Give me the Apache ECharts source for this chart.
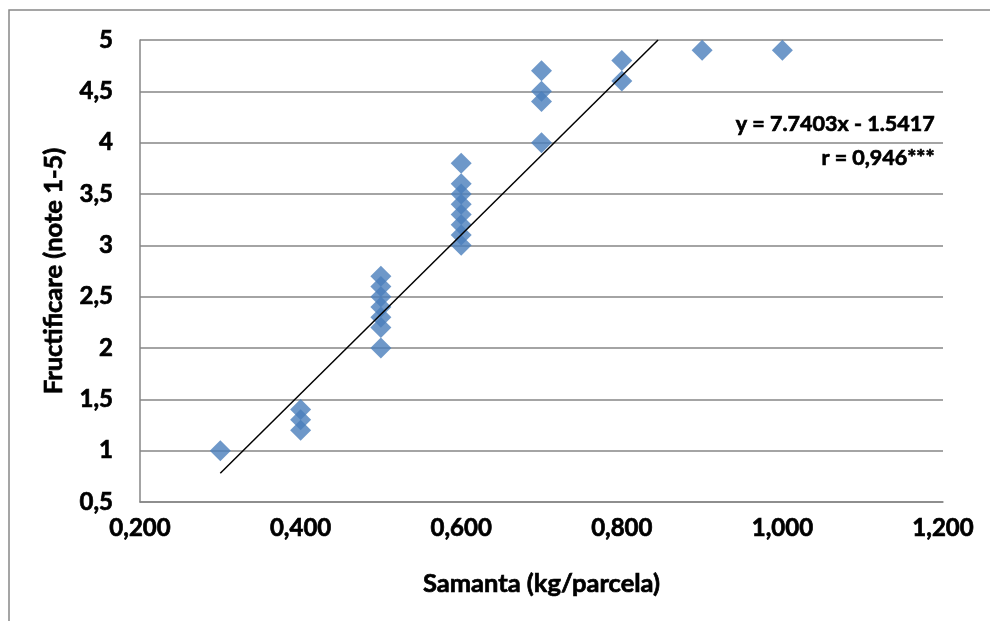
<!DOCTYPE html>
<html>
<head>
<meta charset="utf-8">
<script src="https://cdn.jsdelivr.net/npm/echarts@6/dist/echarts.min.js"></script>
<style>
  html, body { margin: 0; padding: 0; background: #fff; }
  #chart { width: 990px; height: 621px; }
</style>
</head>
<body>
<div id="chart"></div>
<script>
// Seed quantity per plot (kg) and the matching fruiting score (1-5)
const samanta = [
  0.3,
  0.4, 0.4, 0.4,
  0.5, 0.5, 0.5, 0.5, 0.5, 0.5, 0.5,
  0.6, 0.6, 0.6, 0.6, 0.6, 0.6, 0.6, 0.6,
  0.7, 0.7, 0.7, 0.7,
  0.8, 0.8,
  0.9, 1.0
];
const fructificare = [
  1.0,
  1.4, 1.3, 1.2,
  2.7, 2.6, 2.5, 2.4, 2.3, 2.2, 2.0,
  3.8, 3.6, 3.5, 3.4, 3.3, 3.2, 3.1, 3.0,
  4.7, 4.5, 4.4, 4.0,
  4.8, 4.6,
  4.9, 4.9
];

// Linear regression fit
const slope = 7.7403;
const intercept = -1.5417;
const eqLabel = 'y = 7.7403x - 1.5417';
const rLabel = 'r = 0,946***';

const yMaxValue = 5;
const trendStart = 0.3;
const trendEnd = (yMaxValue - intercept) / slope;
const trend = [
  [trendStart, slope * trendStart + intercept],
  [trendEnd, slope * trendEnd + intercept]
];

const points = samanta.map((x, i) => [x, fructificare[i]]);

const font = 'Lato, "Liberation Sans", sans-serif';
// heavy bold text: bold face plus a thin outline in the same colour
const heavy = { fontFamily: font, fontWeight: 'bold', color: '#000', textBorderColor: '#000', textBorderWidth: 0.7 };

const chart = echarts.init(document.getElementById('chart'));

chart.setOption({
  animation: false,
  backgroundColor: '#fff',
  grid: { left: 140, right: 47, top: 40, bottom: 119 },
  xAxis: {
    type: 'value',
    min: 0.2, max: 1.2, interval: 0.2,
    name: 'Samanta (kg/parcela)',
    nameLocation: 'middle',
    nameGap: 69,
    nameTextStyle: Object.assign({ fontSize: 25.5 }, heavy),
    axisLine: { show: true, lineStyle: { color: '#868686', width: 1.5 } },
    axisTick: { show: false },
    splitLine: { show: false },
    axisLabel: Object.assign({
      fontSize: 24, margin: 14,
      formatter: v => v.toFixed(3).replace('.', ',')
    }, heavy)
  },
  yAxis: {
    type: 'value',
    min: 0.5, max: 5, interval: 0.5,
    name: 'Fructificare (note 1-5)',
    nameLocation: 'middle',
    nameGap: 73,
    nameTextStyle: Object.assign({ fontSize: 25.5 }, heavy),
    axisLine: { show: true, lineStyle: { color: '#868686', width: 1.5 } },
    axisTick: { show: false },
    splitLine: { show: true, lineStyle: { color: '#868686', width: 1.5 } },
    axisLabel: Object.assign({
      fontSize: 24, margin: 27,
      formatter: v => String(v).replace('.', ',')
    }, heavy)
  },
  graphic: [
    {
      type: 'rect',
      shape: { x: 9, y: 10, width: 1000, height: 700 },
      style: { fill: 'none', stroke: '#888', lineWidth: 1.5 },
      silent: true, z: -1
    },
    {
      type: 'text',
      right: 55, top: 113,
      style: { text: eqLabel, fontFamily: font, fontWeight: 'bold', fontSize: 21.5, fill: '#000', stroke: '#000', lineWidth: 0.7, textAlign: 'right' }
    },
    {
      type: 'text',
      right: 55, top: 147,
      style: { text: rLabel, fontFamily: font, fontWeight: 'bold', fontSize: 21.5, fill: '#000', stroke: '#000', lineWidth: 0.7, textAlign: 'right' }
    }
  ],
  series: [
    {
      type: 'scatter',
      data: points,
      symbol: 'diamond',
      symbolSize: 21,
      itemStyle: { color: '#4a7ebb' },
      z: 3
    },
    {
      type: 'line',
      data: trend,
      showSymbol: false,
      symbol: 'none',
      clip: true,
      lineStyle: { color: '#000', width: 1.5 },
      z: 4
    }
  ]
});
</script>
</body>
</html>
